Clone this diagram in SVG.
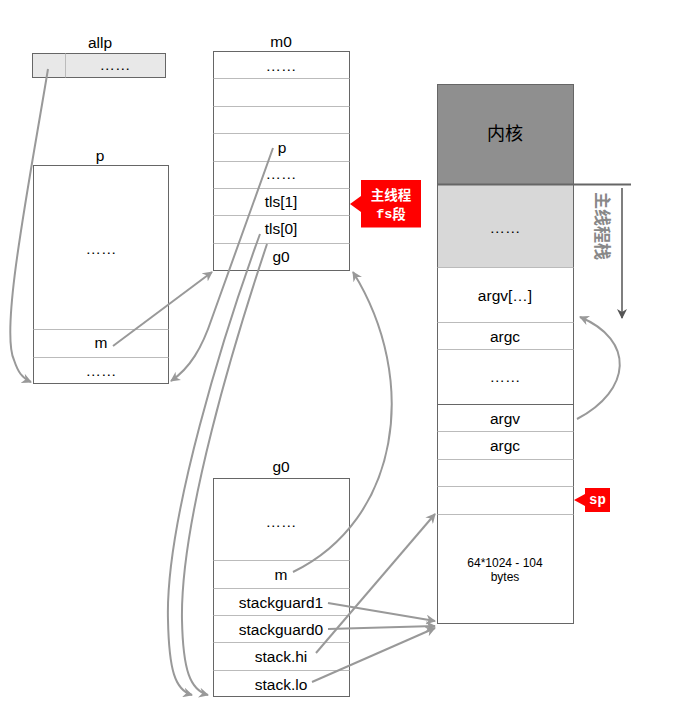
<svg xmlns="http://www.w3.org/2000/svg" width="692" height="721" viewBox="0 0 692 721">
<defs>
<marker id="ah" viewBox="0 0 10 10" refX="9" refY="5" markerWidth="10" markerHeight="10" markerUnits="userSpaceOnUse" orient="auto">
<path d="M0,0 L10,5 L0,10 L3,5 z" fill="#999"/>
</marker>
<marker id="ahd" viewBox="0 0 10 10" refX="9" refY="5" markerWidth="10" markerHeight="10" markerUnits="userSpaceOnUse" orient="auto">
<path d="M0,0 L10,5 L0,10 L3,5 z" fill="#555"/>
</marker>
<style>
text{font-family:"Liberation Sans",Arial,"Noto Sans CJK SC",sans-serif;font-size:15.5px;fill:#000;text-anchor:middle;dominant-baseline:central}
.box{fill:#fff;stroke:#666;stroke-width:1}
.row{stroke:#bbb;stroke-width:1;fill:none}
.dark{stroke:#666;stroke-width:1;fill:none}
.c{fill:none;stroke:#999;stroke-width:2;marker-end:url(#ah)}
.red{fill:#f00}
.wt{fill:#fff;font-weight:bold;font-size:13.5px}
.mono{font-family:"Liberation Mono","Courier New",monospace;font-weight:bold}
.small{font-size:12px}
</style>
</defs>
<rect width="692" height="721" fill="#fff"/>

<g id="allp">
<text x="100" y="42">allp</text>
<rect x="32.5" y="53.5" width="133" height="24" fill="#e8e8e8" stroke="#666"/>
<line x1="65.5" y1="53.5" x2="65.5" y2="77.5" class="row"/>
<text x="115" y="64">……</text>
</g>

<g id="p">
<text x="100" y="155">p</text>
<rect x="33.5" y="165.5" width="135" height="218" class="box"/>
<line x1="33.5" y1="329.5" x2="168.5" y2="329.5" class="row"/>
<line x1="33.5" y1="357.5" x2="168.5" y2="357.5" class="row"/>
<text x="101" y="248">……</text>
<text x="101" y="342">m</text>
<text x="101" y="370">……</text>
</g>

<g id="m0">
<text x="281" y="41">m0</text>
<rect x="213.5" y="51.5" width="136" height="219" class="box"/>
<line x1="213.5" y1="78.5" x2="349.5" y2="78.5" class="row"/>
<line x1="213.5" y1="106.5" x2="349.5" y2="106.5" class="row"/>
<line x1="213.5" y1="133.5" x2="349.5" y2="133.5" class="row"/>
<line x1="213.5" y1="161.5" x2="349.5" y2="161.5" class="row"/>
<line x1="213.5" y1="188.5" x2="349.5" y2="188.5" class="row"/>
<line x1="213.5" y1="215.5" x2="349.5" y2="215.5" class="row"/>
<line x1="213.5" y1="243.5" x2="349.5" y2="243.5" class="row"/>
<text x="281" y="65">……</text>
<text x="282" y="147">p</text>
<text x="281" y="173">……</text>
<text x="281" y="201">tls[1]</text>
<text x="281" y="228">tls[0]</text>
<text x="281" y="256">g0</text>
</g>

<g id="fs-callout">
<path class="red" d="M361,180 L421,180 L421,227.5 L361,227.5 L361,212 L350,204 L361,196 z"/>
<text class="wt" x="391" y="195">主线程</text>
<text class="wt" x="391" y="214"><tspan class="mono">fs</tspan>段</text>
</g>

<g id="g0">
<text x="281" y="466">g0</text>
<rect x="213.5" y="478.5" width="136" height="218" class="box"/>
<line x1="213.5" y1="560.5" x2="349.5" y2="560.5" class="row"/>
<line x1="213.5" y1="588.5" x2="349.5" y2="588.5" class="row"/>
<line x1="213.5" y1="615.5" x2="349.5" y2="615.5" class="row"/>
<line x1="213.5" y1="642.5" x2="349.5" y2="642.5" class="row"/>
<line x1="213.5" y1="670.5" x2="349.5" y2="670.5" class="row"/>
<text x="281" y="521">……</text>
<text x="281" y="574">m</text>
<text x="281" y="602">stackguard1</text>
<text x="281" y="629">stackguard0</text>
<text x="281" y="656">stack.hi</text>
<text x="281" y="684">stack.lo</text>
</g>

<g id="stack">
<rect x="437.5" y="84.5" width="136" height="100" fill="#8f8f8f" stroke="#666"/>
<text x="505" y="134" style="font-size:18px">内核</text>
<rect x="437.5" y="184.5" width="136" height="83" fill="#d8d8d8" stroke="none"/>
<rect x="437.5" y="267.5" width="136" height="356" fill="#fff" stroke="none"/>
<rect x="437.5" y="184.5" width="136" height="439" fill="none" stroke="#666"/>
<line x1="437.5" y1="184.5" x2="631" y2="184.5" stroke="#666" stroke-width="2"/>
<line x1="437.5" y1="267.5" x2="573.5" y2="267.5" class="row"/>
<line x1="437.5" y1="322.5" x2="573.5" y2="322.5" class="row"/>
<line x1="437.5" y1="349.5" x2="573.5" y2="349.5" class="row"/>
<line x1="437.5" y1="404.5" x2="573.5" y2="404.5" class="dark"/>
<line x1="437.5" y1="431.5" x2="573.5" y2="431.5" class="row"/>
<line x1="437.5" y1="459.5" x2="573.5" y2="459.5" class="row"/>
<line x1="437.5" y1="486.5" x2="573.5" y2="486.5" class="row"/>
<line x1="437.5" y1="514.5" x2="573.5" y2="514.5" class="row"/>
<text x="505" y="227">……</text>
<text x="505" y="295">argv[…]</text>
<text x="505" y="336">argc</text>
<text x="505" y="376">……</text>
<text x="505" y="418">argv</text>
<text x="505" y="445">argc</text>
<text x="505" y="563" class="small">64*1024 - 104</text>
<text x="505" y="577" class="small">bytes</text>
</g>

<g id="stack-label">
<line x1="622" y1="188" x2="622" y2="318" stroke="#555" stroke-width="1.5" marker-end="url(#ahd)"/>
<text x="601" y="226" transform="rotate(90 601 226)" style="font-size:17px;font-weight:bold;fill:#888">主线程栈</text>
</g>

<g id="sp-callout">
<path class="red" d="M585,488 L610,488 L610,512 L585,512 L585,506 L574,500 L585,494 z"/>
<text class="wt mono" x="597.5" y="500" style="font-size:14px">sp</text>
</g>

<g id="connectors">
<path class="c" d="M48,69 C 28,190 0,330 14,360 C 18,372 22,378 31,382"/>
<path class="c" d="M113,346 L212,272"/>
<path class="c" d="M273,148 L212,318 C 202,348 190,368 171,381"/>
<path class="c" d="M260,234 C 225,330 165,520 168,620 C 169,670 175,690 192,695"/>
<path class="c" d="M267,244 C 235,340 180,520 182,620 C 183,670 190,690 208,695"/>
<path class="c" d="M293,572 C 400,520 420,380 353,272"/>
<path class="c" d="M577,419 C 632,390 635,340 580,317"/>
<path class="c" d="M328,603 L435,621"/>
<path class="c" d="M328,629 L435,626"/>
<path class="c" d="M312,682 L435,628"/>
<path class="c" d="M316,653 L435,514"/>
</g>
</svg>
